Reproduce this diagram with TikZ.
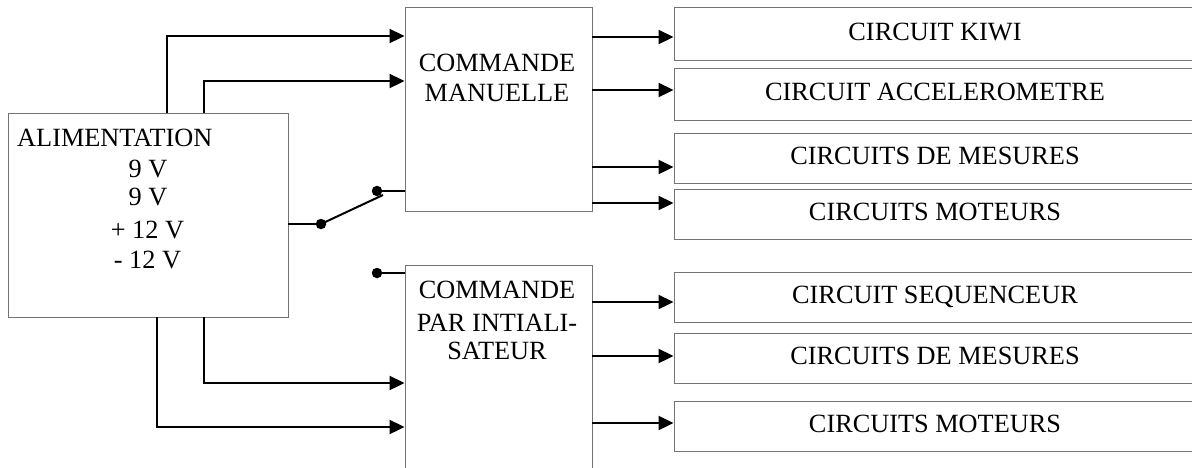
\documentclass[tikz,border=0pt]{standalone}
\usepackage{fontspec}
\setmainfont{Liberation Serif}
\usetikzlibrary{arrows.meta}
\begin{document}
\begin{tikzpicture}[x=1pt,y=-1pt,
  box/.style={draw=black!55, line width=0.9pt, inner sep=0pt, rectangle},
  big/.style={font=\fontsize{26.3}{31}\selectfont},
  txt/.style={big, inner sep=0pt, anchor=base},
  wire/.style={line width=2pt, draw=black},
  arr/.style={wire, -{Triangle[length=15pt,width=14pt]}},
  dotnode/.style={circle, fill=black, inner sep=0pt, minimum size=10.5pt},
  outbox/.style={box, big, minimum width=522pt, minimum height=#1, text height=17pt, text depth=4pt}
]
\useasboundingbox (0,0) rectangle (1192,467);

% main blocks
\node[box, minimum width=280pt, minimum height=204pt] (alim) at (148,215) {};
\node[box, minimum width=187pt, minimum height=204pt] (cm) at (498.5,109) {};
\node[box, minimum width=187pt, minimum height=230pt] (ci) at (498.5,380) {};

% texts of main blocks
\node[txt, anchor=base west] (t1) at (17,146) {ALIMENTATION};
\node[txt] (t2) at (148,177) {9 V};
\node[txt] (t3) at (148,205) {9 V};
\node[txt] (t4) at (147.5,238) {+ 12 V};
\node[txt] (t5) at (147.5,268) {- 12 V};

\node[txt] (c1) at (497,71) {COMMANDE};
\node[txt] (c2) at (497,101) {MANUELLE};

\node[txt] (c3) at (497,298) {COMMANDE};
\node[txt] (c4) at (497,331) {PAR INTIALI-};
\node[txt] (c5) at (497,359) {SATEUR};

% output boxes
\node[outbox=53pt] (b1) at (935,33.5) {CIRCUIT KIWI};
\node[outbox=52pt] (b2) at (935,94) {CIRCUIT ACCELEROMETRE};
\node[outbox=50pt] (b3) at (935,158) {CIRCUITS DE MESURES};
\node[outbox=50pt] (b4) at (935,214) {CIRCUITS MOTEURS};
\node[outbox=50pt] (b5) at (935,297) {CIRCUIT SEQUENCEUR};
\node[outbox=50pt] (b6) at (935,358) {CIRCUITS DE MESURES};
\node[outbox=50pt] (b7) at (935,426) {CIRCUITS MOTEURS};

% outputs of commande manuelle
\draw[arr] (cm.east |- 0,37) -- (b1.west |- 0,37);
\draw[arr] (cm.east |- 0,90) -- (b2.west |- 0,90);
\draw[arr] (cm.east |- 0,167) -- (b3.west |- 0,167);
\draw[arr] (cm.east |- 0,203) -- (b4.west |- 0,203);

% outputs of commande par initialisateur
\draw[arr] (ci.east |- 0,302) -- (b5.west |- 0,302);
\draw[arr] (ci.east |- 0,356) -- (b6.west |- 0,356);
\draw[arr] (ci.east |- 0,423) -- (b7.west |- 0,423);

% supply lines
\draw[arr] (alim.north -| 167,0) |- (cm.west |- 0,36);
\draw[arr] (alim.north -| 204,0) |- (cm.west |- 0,81);
\draw[arr] (alim.south -| 204,0) |- (ci.west |- 0,383);
\draw[arr] (alim.south -| 157,0) |- (ci.west |- 0,427);

% switch
\node[dotnode] (d1) at (321,224) {};
\node[dotnode] (d2) at (377,191) {};
\node[dotnode] (d3) at (377,273) {};
\coordinate (lev) at (383,195);
\draw[wire] (alim.east |- d1) -- (d1.center);
\draw[wire] (d1.center) -- (lev);
\draw[wire] (d2.center) -- (cm.west |- d2);
\draw[wire] (d3.center) -- (ci.west |- d3);
\end{tikzpicture}
\end{document}
